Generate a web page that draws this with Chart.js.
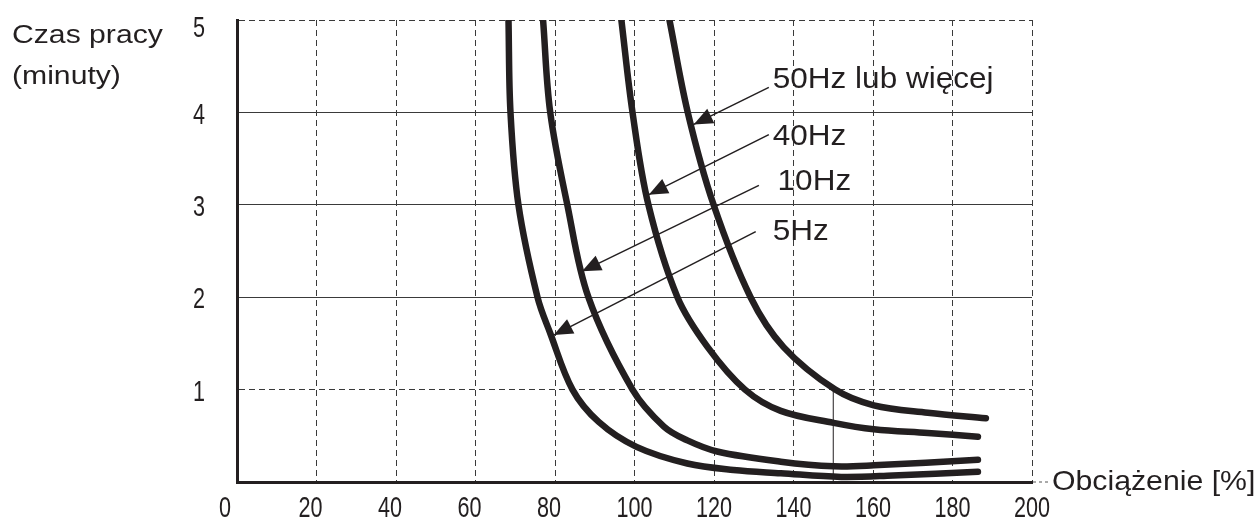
<!DOCTYPE html>
<html lang="pl">
<head>
<meta charset="utf-8">
<title>Czas pracy / Obciążenie</title>
<script src="https://cdn.jsdelivr.net/npm/chart.js@4"></script>
<style>
    html, body { margin: 0; padding: 0; background: #fff; }
    #wrap { width: 1259px; height: 517px; }
</style>
</head>
<body>
<div id="wrap"><canvas id="chart"></canvas></div>
<script>
// tick labels
const xTickLabels = ['0', '20', '40', '60', '80', '100', '120', '140', '160', '180', '200'];
const yTickLabels = ['', '1', '2', '3', '4', '5'];

// curves: load [%] -> time [min]
const load5Hz = [68.3, 68.8, 70.8, 75.6, 78.8, 84.4, 91.0, 100.5, 113.3, 124.9, 136.8, 152.0, 165.0, 186.4];
const time5Hz = [5.0, 4.0, 3.0, 2.0, 1.61, 1.0, 0.65, 0.38, 0.20, 0.13, 0.095, 0.055, 0.07, 0.11];

const load10Hz = [77.0, 78.8, 83.1, 88.4, 99.5, 107.4, 113.3, 120.8, 136.8, 150.1, 160.2, 186.4];
const time10Hz = [5.0, 4.0, 3.0, 2.0, 1.0, 0.60, 0.45, 0.33, 0.22, 0.17, 0.18, 0.24];

const load40Hz = [96.7, 99.5, 103.5, 110.8, 118.4, 127.8, 136.8, 150.1, 160.2, 173.8, 186.4];
const time40Hz = [5.0, 4.0, 3.0, 2.0, 1.46, 1.0, 0.77, 0.64, 0.57, 0.53, 0.49];

const load50Hz = [108.8, 113.4, 119.9, 129.2, 137.5, 150.5, 160.2, 173.8, 188.4];
const time50Hz = [5.0, 4.0, 3.0, 2.0, 1.46, 1.0, 0.83, 0.75, 0.69];

// thin marker at 150 %
const markerLoad = [150, 150];
const markerTime = [0, 1.0];

// labels and arrows (data coordinates)
const arrowLabels = ['50Hz lub więcej', '40Hz', '10Hz', '5Hz'];
const labelAt = [[134.8, 4.35], [134.8, 3.74], [136.0, 3.25], [134.8, 2.71]];
const arrowFrom = [[133.8, 4.27], [133.8, 3.76], [131.3, 3.21], [130.5, 2.71]];
const arrowTo = [[114.9, 3.87], [103.6, 3.11], [86.8, 2.28], [79.7, 1.59]];

const ink = '#231f20';
const gridInk = '#3a3a3a';

const toPoints = (xs, ys) => xs.map((v, i) => ({ x: v, y: ys[i] }));

function drawText(ctx, text, x, y, size, stretch) {
    ctx.save();
    ctx.translate(x, y);
    ctx.scale(stretch, 1);
    ctx.font = size + 'px "Liberation Sans", Arial, sans-serif';
    ctx.fillText(text, 0, 0);
    ctx.restore();
}

const annotate = {
    id: 'annotate',
    afterDatasetsDraw(chart) {
        const { ctx, chartArea, scales: { x, y } } = chart;
        ctx.save();
        ctx.fillStyle = ink;
        ctx.strokeStyle = ink;

        // arrow heads
        arrowTo.forEach((to, i) => {
            const fx = x.getPixelForValue(arrowFrom[i][0]);
            const fy = y.getPixelForValue(arrowFrom[i][1]);
            const tx = x.getPixelForValue(to[0]);
            const ty = y.getPixelForValue(to[1]);
            const a = Math.atan2(ty - fy, tx - fx);
            const len = 19, half = 8;
            const bx = tx - len * Math.cos(a);
            const by = ty - len * Math.sin(a);
            ctx.beginPath();
            ctx.moveTo(tx, ty);
            ctx.lineTo(bx - half * Math.sin(a), by + half * Math.cos(a));
            ctx.lineTo(bx + half * Math.sin(a), by - half * Math.cos(a));
            ctx.closePath();
            ctx.fill();
        });

        // curve labels
        ctx.textBaseline = 'middle';
        ctx.textAlign = 'left';
        arrowLabels.forEach((t, i) => {
            drawText(ctx, t, x.getPixelForValue(labelAt[i][0]), y.getPixelForValue(labelAt[i][1]), 30, 1.05);
        });

        // tick labels (tall narrow digits)
        y.ticks.forEach((t, i) => {
            const py = Math.max(y.getPixelForValue(t.value) + 3, chartArea.top + 9);
            drawText(ctx, yTickLabels[i], chartArea.left - 44, py, 30, 0.72);
        });
        ctx.textBaseline = 'alphabetic';
        x.ticks.forEach((t, i) => {
            drawText(ctx, xTickLabels[i], x.getPixelForValue(t.value) - 18, chartArea.bottom + 34.5, 30, 0.72);
        });

        // axis titles
        drawText(ctx, 'Czas pracy', 12, 43, 26, 1.16);
        drawText(ctx, '(minuty)', 12, 84, 26, 1.16);
        drawText(ctx, 'Obciążenie [%]', chartArea.right + 20, chartArea.bottom + 8, 28, 1.08);

        // dashed extension of x axis
        ctx.lineWidth = 1;
        ctx.setLineDash([3, 3]);
        ctx.strokeStyle = '#555';
        ctx.beginPath();
        ctx.moveTo(chartArea.right + 1, chartArea.bottom);
        ctx.lineTo(chartArea.right + 19, chartArea.bottom);
        ctx.stroke();
        ctx.restore();
    }
};

document.addEventListener('DOMContentLoaded', () => {
    const curve = (xs, ys) => ({
        data: toPoints(xs, ys),
        showLine: true,
        borderColor: ink,
        borderWidth: 6.5,
        borderCapStyle: 'round',
        borderJoinStyle: 'round',
        tension: 0.35,
        pointRadius: 0,
        fill: false
    });

    const thin = (pts, w) => ({
        data: pts,
        showLine: true,
        borderColor: ink,
        borderWidth: w,
        pointRadius: 0,
        fill: false
    });

    const datasets = [
        curve(load5Hz, time5Hz),
        curve(load10Hz, time10Hz),
        curve(load40Hz, time40Hz),
        curve(load50Hz, time50Hz),
        thin(toPoints(markerLoad, markerTime), 1)
    ];
    arrowFrom.forEach((from, i) => {
        datasets.push(thin([{ x: from[0], y: from[1] }, { x: arrowTo[i][0], y: arrowTo[i][1] }], 1.5));
    });

    const ctx = document.getElementById('chart').getContext('2d');
    new Chart(ctx, {
        type: 'scatter',
        data: { datasets: datasets },
        options: {
            responsive: true,
            maintainAspectRatio: false,
            animation: false,
            layout: { padding: { top: 20, right: 227, left: 193, bottom: 0 } },
            plugins: {
                legend: { display: false },
                tooltip: { enabled: false }
            },
            scales: {
                x: {
                    type: 'linear',
                    min: 0,
                    max: 200,
                    afterFit: (scale) => { scale.height = 35; },
                    ticks: { stepSize: 20, display: false },
                    grid: {
                        drawTicks: false,
                        lineWidth: 1,
                        color: (c) => (c.tick && c.tick.value === 0) ? 'rgba(0,0,0,0)' : gridInk
                    },
                    border: { display: true, color: ink, width: 3, dash: [6, 4] }
                },
                y: {
                    min: 0,
                    max: 5,
                    afterFit: (scale) => { scale.width = 44; },
                    ticks: { stepSize: 1, display: false },
                    grid: {
                        drawTicks: false,
                        lineWidth: 1,
                        color: (c) => (c.tick && c.tick.value === 0) ? 'rgba(0,0,0,0)' : gridInk
                    },
                    border: {
                        display: true,
                        color: ink,
                        width: 3,
                        dash: (c) => (c.tick && [2, 3, 4].includes(c.tick.value)) ? [] : [6, 4]
                    }
                }
            }
        },
        plugins: [annotate]
    });
});
</script>
</body>
</html>
